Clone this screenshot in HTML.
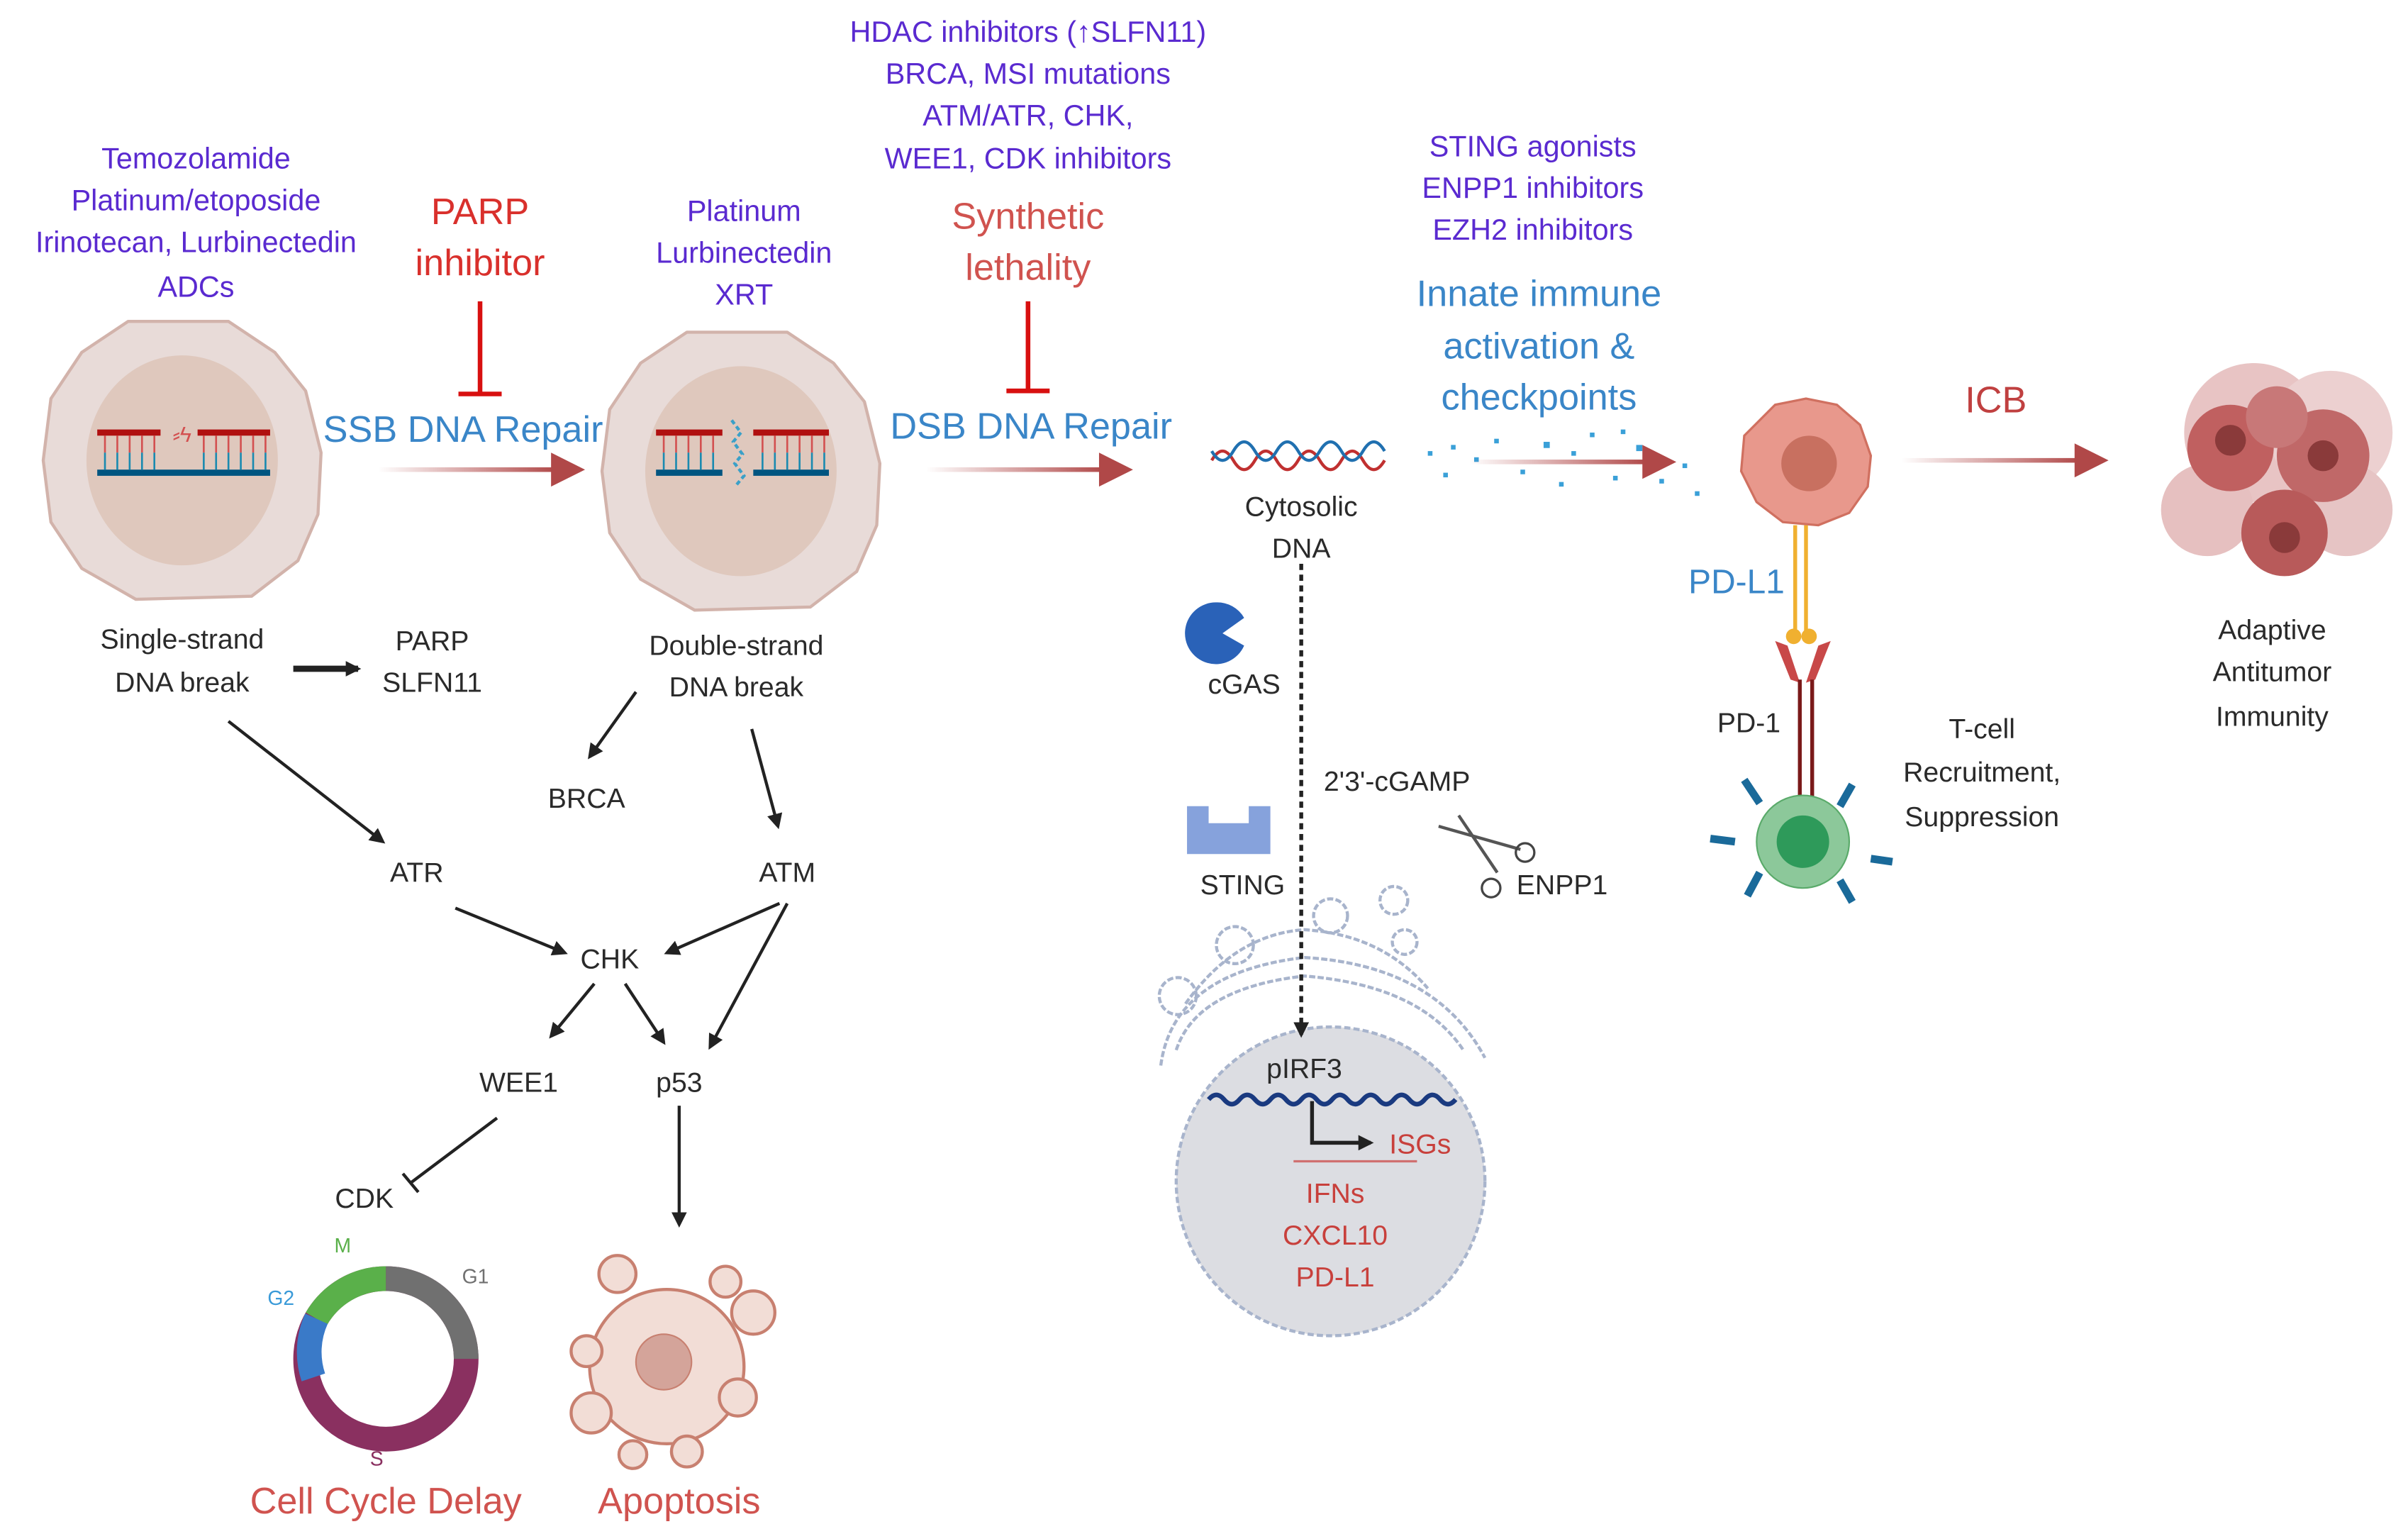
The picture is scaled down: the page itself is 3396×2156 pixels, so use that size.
<!DOCTYPE html>
<html><head><meta charset="utf-8"><style>
html,body{margin:0;padding:0;background:#fff;}
svg{display:block;}
text{font-family:"Liberation Sans",sans-serif;}
.p{fill:#5a2ad0;font-size:19px;text-anchor:middle;}
.k{fill:#2a2a2a;font-size:18px;text-anchor:middle;}
.r{fill:#d9302c;font-size:24px;text-anchor:middle;}
.r2{fill:#d0534f;font-size:24px;text-anchor:middle;}
.b{fill:#3a86c8;font-size:24px;text-anchor:middle;}
.rn{fill:#c8403c;font-size:18px;text-anchor:middle;}
</style></head><body>
<svg width="3396" height="2156" viewBox="0 0 1560 990" xmlns="http://www.w3.org/2000/svg">
<defs>
<linearGradient id="ga" x1="0" x2="1" y1="0" y2="0"><stop offset="0" stop-color="#b04848" stop-opacity="0"/><stop offset="1" stop-color="#b04848"/></linearGradient>
<marker id="ah" markerWidth="10" markerHeight="10" refX="8" refY="5" orient="auto" markerUnits="userSpaceOnUse"><path d="M0,0 L10,5 L0,10 z" fill="#222"/></marker>
<g id="cell">
<path d="M-35,-90 L30,-90 L60,-70 L80,-45 L90,-5 L88,35 L75,65 L45,88 L-30,90 L-65,70 L-85,40 L-90,0 L-85,-40 L-65,-70 Z" fill="#e8dbd8" stroke="#d2b3ab" stroke-width="2" stroke-linejoin="round"/>
<ellipse cx="0" cy="0" rx="62" ry="68" fill="#dfc8bd"/>
</g>
<g id="ladder">
<rect x="-55" y="-22" width="112" height="4" fill="#b01010"/>
<rect x="-55" y="4" width="112" height="4" fill="#005580"/>
<g stroke="#d35050" stroke-width="1.2"><path d="M-50,-18v11M-42,-18v11M-34,-18v11M-26,-18v11M-18,-18v11M14,-18v11M22,-18v11M30,-18v11M38,-18v11M46,-18v11M54,-18v11"/></g>
<g stroke="#1a8ab0" stroke-width="1.2"><path d="M-50,-7v11M-42,-7v11M-34,-7v11M-26,-7v11M-18,-7v11M14,-7v11M22,-7v11M30,-7v11M38,-7v11M46,-7v11M54,-7v11"/></g>
</g>
<g id="rarrow">
<rect x="0" y="-1.5" width="116" height="3" fill="url(#ga)"/>
<path d="M112,-11 L134,0 L112,11 Z" fill="#b04848"/>
</g>
</defs>

<text class="p" x="127" y="109">Temozolamide</text>
<text class="p" x="127" y="136">Platinum/etoposide</text>
<text class="p" x="127" y="163">Irinotecan, Lurbinectedin</text>
<text class="p" x="127" y="192">ADCs</text>
<text class="r" x="311" y="145">PARP</text>
<text class="r" x="311" y="178">inhibitor</text>
<path d="M311,195V255M297,255H325" stroke="#d81010" stroke-width="3" fill="none"/>

<use href="#cell" x="118" y="298"/>
<use href="#ladder" x="118" y="300"/>
<rect x="104" y="270" width="24" height="18" fill="#dfc8bd"/>
<text x="118" y="286" fill="#d35050" font-size="14" text-anchor="middle">⸗ϟ</text>

<text class="b" x="300" y="286">SSB DNA Repair</text>
<use href="#rarrow" x="245" y="304"/>

<text class="p" x="482" y="143">Platinum</text>
<text class="p" x="482" y="170">Lurbinectedin</text>
<text class="p" x="482" y="197">XRT</text>
<use href="#cell" x="480" y="305"/>
<use href="#ladder" x="480" y="300"/>
<rect x="468" y="270" width="20" height="50" fill="#dfc8bd"/>
<path d="M474,272 l6,8 -5,6 6,8 -5,6 6,8 -5,6" stroke="#3aa0c8" stroke-width="2" fill="none" stroke-dasharray="3,2"/>

<text class="p" x="666" y="27">HDAC inhibitors (↑SLFN11)</text>
<text class="p" x="666" y="54">BRCA, MSI mutations</text>
<text class="p" x="666" y="81">ATM/ATR, CHK,</text>
<text class="p" x="666" y="109">WEE1, CDK inhibitors</text>
<text class="r2" x="666" y="148">Synthetic</text>
<text class="r2" x="666" y="181">lethality</text>
<path d="M666,195V253M652,253H680" stroke="#d81010" stroke-width="3" fill="none"/>
<text class="b" x="668" y="284">DSB DNA Repair</text>
<use href="#rarrow" x="600" y="304"/>

<text class="k" x="118" y="420">Single-strand</text>
<text class="k" x="118" y="448">DNA break</text>
<line x1="190" y1="433" x2="232" y2="433" stroke="#222" stroke-width="4" marker-end="url(#ah)"/>
<text class="k" x="280" y="421">PARP</text>
<text class="k" x="280" y="448">SLFN11</text>
<text class="k" x="477" y="424">Double-strand</text>
<text class="k" x="477" y="451">DNA break</text>
<g stroke="#222" stroke-width="2" fill="none" marker-end="url(#ah)">
<line x1="412" y1="448" x2="382" y2="490"/>
<line x1="487" y1="472" x2="504" y2="535"/>
<line x1="148" y1="467" x2="248" y2="545"/>
<line x1="295" y1="588" x2="366" y2="617"/>
<line x1="505" y1="585" x2="432" y2="617"/>
<line x1="510" y1="585" x2="460" y2="678"/>
<line x1="385" y1="637" x2="357" y2="671"/>
<line x1="405" y1="637" x2="430" y2="675"/>
<line x1="440" y1="716" x2="440" y2="793"/>
</g>
<path d="M322,724L266,766M261,760L271,772" stroke="#222" stroke-width="2" fill="none"/>
<text class="k" x="380" y="523">BRCA</text>
<text class="k" x="270" y="571">ATR</text>
<text class="k" x="510" y="571">ATM</text>
<text class="k" x="395" y="627">CHK</text>
<text class="k" x="336" y="707">WEE1</text>
<text class="k" x="440" y="707">p53</text>
<text class="k" x="236" y="782">CDK</text>

<g fill="none" stroke-width="16">
<circle cx="250" cy="880" r="52" stroke="#8a3060"/>
<path d="M250,828 A52,52 0 0 1 302,880" stroke="#707070"/>
<path d="M205,854 A52,52 0 0 1 250,828" stroke="#5ab04a"/>
<path d="M203,892 A52,52 0 0 1 205,854" stroke="#3a7ac8"/>
</g>
<text x="222" y="811" fill="#5ab04a" font-size="13" text-anchor="middle">M</text>
<text x="308" y="831" fill="#707070" font-size="13" text-anchor="middle">G1</text>
<text x="182" y="845" fill="#3a9ad8" font-size="13" text-anchor="middle">G2</text>
<text x="244" y="949" fill="#8a3060" font-size="13" text-anchor="middle">S</text>

<g fill="#f2ddd6" stroke="#c88070" stroke-width="2">
<circle cx="432" cy="885" r="50"/>
<circle cx="400" cy="825" r="12"/><circle cx="470" cy="830" r="10"/><circle cx="488" cy="850" r="14"/>
<circle cx="383" cy="915" r="13"/><circle cx="478" cy="905" r="12"/><circle cx="445" cy="940" r="10"/>
<circle cx="380" cy="875" r="10"/><circle cx="410" cy="942" r="9"/>
</g>
<circle cx="430" cy="882" r="18" fill="#d4a49a" stroke="#c88070"/>

<text class="r2" x="250" y="980">Cell Cycle Delay</text>
<text class="r2" x="440" y="980">Apoptosis</text>

<path d="M785,298 q7,-12 14,0 t14,0 t14,0 t14,0 t14,0 t14,0 t14,0 t14,0" stroke="#c03030" stroke-width="2" fill="none"/>
<path d="M785,292 q7,12 14,0 t14,0 t14,0 t14,0 t14,0 t14,0 t14,0 t14,0" stroke="#2070b0" stroke-width="2" fill="none"/>
<text class="k" x="843" y="334">Cytosolic</text>
<text class="k" x="843" y="361">DNA</text>

<circle cx="862" cy="765" r="100" fill="#dcdde2" stroke="#a8b4cc" stroke-width="2" stroke-dasharray="4,2"/>
<g fill="none" stroke="#a8b4cc" stroke-width="2" stroke-dasharray="4,1.5">
<path d="M752,690 Q760,630 845,620 Q930,625 962,685"/>
<path d="M762,680 Q775,640 845,632 Q920,638 948,680"/>
<path d="M768,650 Q800,605 845,602 Q895,605 925,640"/>
<circle cx="763" cy="645" r="12"/><circle cx="800" cy="612" r="12"/><circle cx="862" cy="593" r="11"/><circle cx="903" cy="583" r="9"/><circle cx="910" cy="610" r="8"/>
</g>

<line x1="843" y1="365" x2="843" y2="670" stroke="#222" stroke-width="2.5" stroke-dasharray="4,3" marker-end="url(#ah)"/>
<path d="M788,390 a20,20 0 1 0 18,28 l-14,-8 14,-10 a20,20 0 0 0 -18,-10z" fill="#2a62b8"/>
<text class="k" x="806" y="449">cGAS</text>
<text class="k" x="905" y="512">2'3'-cGAMP</text>
<path d="M932,535 L985,550 M945,528 L970,565" stroke="#555" stroke-width="2"/>
<circle cx="988" cy="552" r="6" fill="none" stroke="#444" stroke-width="1.5"/><circle cx="966" cy="575" r="6" fill="none" stroke="#444" stroke-width="1.5"/>
<text class="k" x="1012" y="579">ENPP1</text>
<path d="M769,522H783V533H809V522H823V553H769Z" fill="#86a2dc"/>
<text class="k" x="805" y="579">STING</text>

<text class="k" x="845" y="698">pIRF3</text>
<path d="M783,712 q5,-6 10,0 t10,0 t10,0 t10,0 t10,0 t10,0 t10,0 t10,0 t10,0 t10,0 t10,0 t10,0 t10,0 t10,0 t10,0 t10,0" stroke="#1a3a80" stroke-width="3" fill="none"/>
<path d="M850,713V740H888" stroke="#222" stroke-width="2.5" fill="none" marker-end="url(#ah)"/>
<line x1="838" y1="752" x2="918" y2="752" stroke="#d07070" stroke-width="1.5"/>
<text class="rn" x="920" y="747">ISGs</text>
<text class="rn" x="865" y="779">IFNs</text>
<text class="rn" x="865" y="806">CXCL10</text>
<text class="rn" x="865" y="833">PD-L1</text>

<text class="p" x="993" y="101">STING agonists</text>
<text class="p" x="993" y="128">ENPP1 inhibitors</text>
<text class="p" x="993" y="155">EZH2 inhibitors</text>
<text class="b" x="997" y="198">Innate immune</text>
<text class="b" x="997" y="232">activation &amp;</text>
<text class="b" x="997" y="265">checkpoints</text>
<g fill="#3aa0d8">
<rect x="925" y="292" width="3" height="3"/><rect x="940" y="288" width="3" height="3"/><rect x="955" y="296" width="3" height="3"/><rect x="968" y="284" width="3" height="3"/><rect x="985" y="304" width="3" height="3"/><rect x="1000" y="286" width="4" height="4"/><rect x="1018" y="292" width="3" height="3"/><rect x="1030" y="280" width="3" height="3"/><rect x="1045" y="308" width="3" height="3"/><rect x="1060" y="288" width="4" height="4"/><rect x="1075" y="310" width="3" height="3"/><rect x="1090" y="300" width="3" height="3"/><rect x="1098" y="318" width="3" height="3"/><rect x="935" y="306" width="3" height="3"/><rect x="1010" y="312" width="3" height="3"/><rect x="1050" y="278" width="3" height="3"/>
</g>
<use href="#rarrow" x="952" y="299"/>

<path d="M1150,262 L1170,258 L1190,262 L1205,275 L1212,295 L1210,315 L1198,332 L1178,340 L1155,338 L1138,325 L1128,305 L1130,282 Z" fill="#e8988c" stroke="#d07060" stroke-width="1.5"/>
<circle cx="1172" cy="300" r="18" fill="#c87060"/>
<text x="1293" y="267" fill="#c04040" font-size="24" text-anchor="middle">ICB</text>
<use href="#rarrow" x="1232" y="298"/>

<g>
<circle cx="1460" cy="280" r="45" fill="#e8c4c4"/>
<circle cx="1510" cy="280" r="40" fill="#ecd0d0"/>
<circle cx="1430" cy="330" r="30" fill="#e6c0c0"/>
<circle cx="1520" cy="330" r="30" fill="#e6c4c4"/>
<circle cx="1445" cy="290" r="28" fill="#c06060"/>
<circle cx="1505" cy="295" r="30" fill="#c06868"/>
<circle cx="1480" cy="345" r="28" fill="#b85a5a"/>
<circle cx="1475" cy="270" r="20" fill="#c87878"/>
<circle cx="1445" cy="285" r="10" fill="#8a3a3a"/><circle cx="1505" cy="295" r="10" fill="#8a3a3a"/><circle cx="1480" cy="348" r="10" fill="#8a3a3a"/>
</g>
<text class="k" x="1472" y="414">Adaptive</text>
<text class="k" x="1472" y="441">Antitumor</text>
<text class="k" x="1472" y="470">Immunity</text>

<text x="1125" y="384" fill="#3a86c8" font-size="22" text-anchor="middle">PD-L1</text>
<path d="M1163,340V410M1170,340V410" stroke="#f0b030" stroke-width="2.5"/>
<circle cx="1162" cy="412" r="5" fill="#f0b030"/><circle cx="1172" cy="412" r="5" fill="#f0b030"/>
<path d="M1150,415 L1160,440 L1166,442 L1158,418Z M1186,415 L1176,440 L1170,442 L1178,418Z" fill="#c84848"/>
<path d="M1166,440V520M1174,440V520" stroke="#7a1a1a" stroke-width="2.5"/>
<text class="k" x="1133" y="474">PD-1</text>
<circle cx="1168" cy="545" r="30" fill="#8cc89a" stroke="#5aaa6a"/>
<circle cx="1168" cy="545" r="17" fill="#2e9a5a"/>
<g stroke="#1a6a9a" stroke-width="5">
<path d="M1140,520L1130,505M1192,522L1200,508M1140,565L1132,580M1192,570L1200,584M1108,543L1124,545M1212,556L1226,558"/>
</g>
<text class="k" x="1284" y="478">T-cell</text>
<text class="k" x="1284" y="506">Recruitment,</text>
<text class="k" x="1284" y="535">Suppression</text>
</svg>
</body></html>
